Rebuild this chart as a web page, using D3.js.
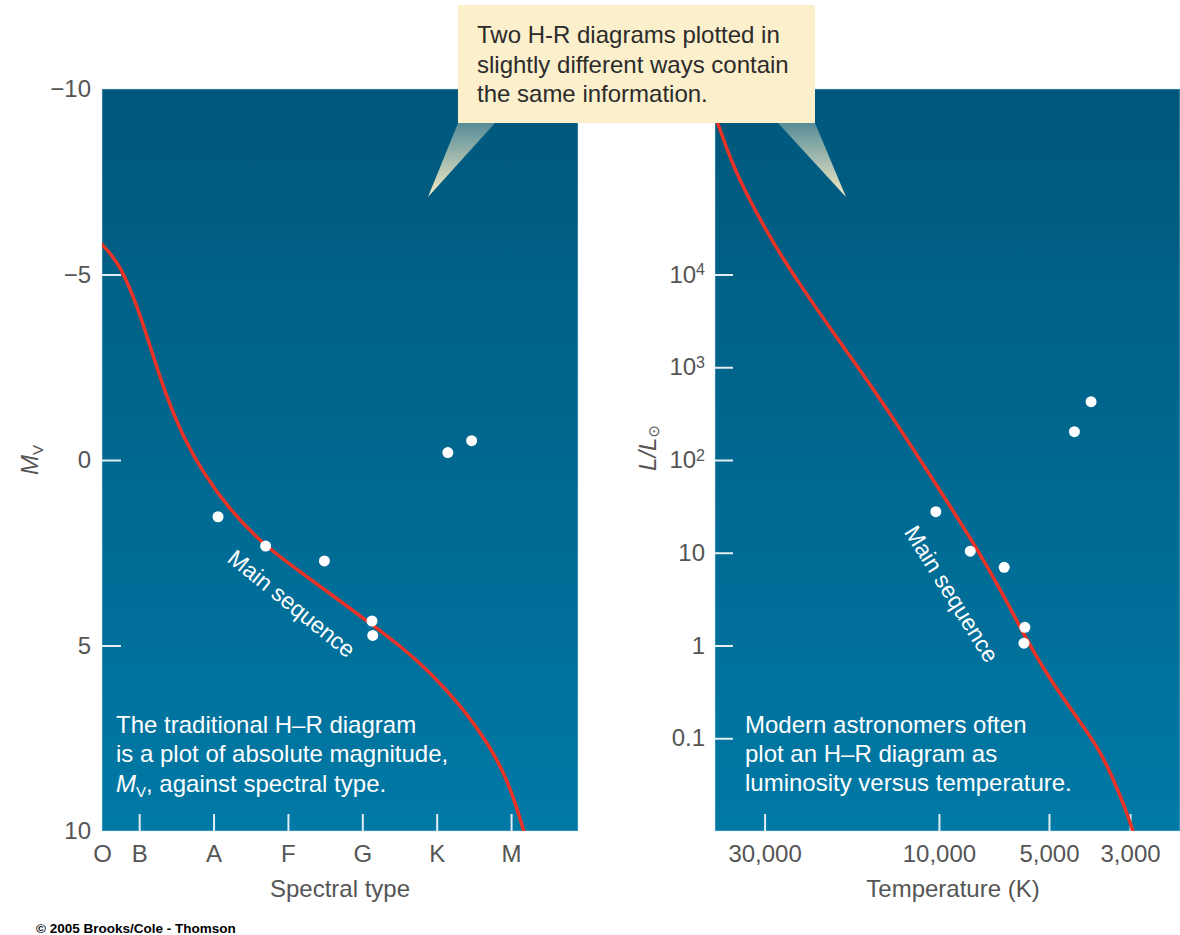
<!DOCTYPE html>
<html>
<head>
<meta charset="utf-8">
<script src="https://cdn.jsdelivr.net/npm/d3@7"></script>
<style>
  body { margin: 0; background: #fff; }
  svg { display: block; font-family: "Liberation Sans", Arial, Helvetica, sans-serif; }
</style>
</head>
<body>
<svg id="chart" width="1180" height="935"></svg>
<script>
// left panel: absolute magnitude vs spectral type
const spectralTypes = ['O', 'B', 'A', 'F', 'G', 'K', 'M'];
const spectralIndex = [0, 0.5, 1.5, 2.5, 3.5, 4.5, 5.5];
const magTicks = [-10, -5, 0, 5, 10];
const msSpectral = [-0.08, 0, 0.24, 0.51, 0.69, 0.87, 1.09, 1.36, 1.72, 2.17, 2.76, 3.2, 3.64, 4.01, 4.41, 4.84, 5.19, 5.46, 5.67, 5.7];
const msMag = [-5.98, -5.8, -5.31, -3.96, -2.78, -1.7, -0.62, 0.35, 1.35, 2.29, 3.15, 3.8, 4.45, 5.01, 5.71, 6.66, 7.63, 8.63, 9.97, 10.24];
const starSpectral = [1.56, 2.2, 2.99, 3.63, 3.64, 4.65, 4.97];
const starMag = [1.53, 2.32, 2.72, 4.34, 4.73, -0.2, -0.52];

// right panel: luminosity vs temperature
const tempTicks = [30000, 10000, 5000, 3000];
const lumTicks = [0.1, 1, 10, 100, 1000, 10000];
const msTemp = [41900, 40340, 36700, 32980, 29620, 26780, 24060, 19540, 15780, 12030, 9175, 7886, 6613, 5828, 4979, 4200, 3703, 3347, 3104, 2951, 2896];
const msLum = [6.7e5, 4.3e5, 1.52e5, 6.36e4, 2.94e4, 1.51e4, 7900, 2400, 747, 152, 28.9, 11.2, 3.33, 1.26, 0.435, 0.169, 0.0845, 0.0382, 0.0182, 0.0103, 0.008];
const starTemp = [10200, 8210, 6630, 5820, 5855, 4260, 3835];
const starLum = [27.7, 10.4, 6.97, 1.57, 1.06, 202, 425];

const calloutLines = ['Two H-R diagrams plotted in', 'slightly different ways contain', 'the same information.'];
const rightNoteLines = ['Modern astronomers often', 'plot an H\u2013R diagram as', 'luminosity versus temperature.'];

const svg = d3.select('#chart');
const leftPanel = {x: 102, y: 89, w: 476, h: 742};
const rightPanel = {x: 715, y: 89, w: 465, h: 742};

const defs = svg.append('defs');
const bg = defs.append('linearGradient').attr('id', 'panelBg')
  .attr('x1', 0).attr('y1', 0).attr('x2', 0).attr('y2', 1);
bg.append('stop').attr('offset', '0%').attr('stop-color', '#00577b');
bg.append('stop').attr('offset', '100%').attr('stop-color', '#0079a5');

const cone = defs.append('linearGradient').attr('id', 'cone')
  .attr('x1', 0).attr('y1', 0).attr('x2', 0).attr('y2', 1);
cone.append('stop').attr('offset', '0%').attr('stop-color', '#f6ebc6').attr('stop-opacity', 0.35);
cone.append('stop').attr('offset', '100%').attr('stop-color', '#f6ebc6').attr('stop-opacity', 1);

[['clipL', leftPanel], ['clipR', rightPanel]].forEach(function([id, p]) {
  defs.append('clipPath').attr('id', id).append('rect')
    .attr('x', p.x).attr('y', p.y).attr('width', p.w).attr('height', p.h);
});

[leftPanel, rightPanel].forEach(function(p) {
  svg.append('rect')
    .attr('x', p.x).attr('y', p.y).attr('width', p.w).attr('height', p.h)
    .attr('fill', 'url(#panelBg)')
    .attr('stroke', 'rgba(200,230,240,0.5)')
    .attr('stroke-width', 1);
});

// scales
const xL = d3.scaleLinear().domain([0, 6.4]).range([leftPanel.x, leftPanel.x + leftPanel.w]);
const yL = d3.scaleLinear().domain([-10, 10]).range([leftPanel.y, leftPanel.y + leftPanel.h]);
const xR = d3.scaleLog().domain([41000, 2190]).range([rightPanel.x, rightPanel.x + rightPanel.w]);
const yR = d3.scaleLog().domain([0.01, 1e6]).range([rightPanel.y + rightPanel.h, rightPanel.y]);

function styleAxis(g, hideTick) {
  g.select('.domain').remove();
  g.attr('font-family', null).attr('font-size', null);
  g.selectAll('.tick line')
    .attr('stroke', '#e4edf2')
    .attr('stroke-width', 2)
    .style('display', function(d) { return hideTick(d) ? 'none' : null; });
  g.selectAll('.tick text')
    .attr('fill', '#555')
    .style('font-size', '24px');
}

// left axes
const axisYL = svg.append('g').attr('transform', 'translate(' + leftPanel.x + ',0)')
  .call(d3.axisLeft(yL).tickValues(magTicks).tickSizeInner(-19).tickSizeOuter(0).tickPadding(11)
    .tickFormat(function(d) { return d < 0 ? '\u2212' + Math.abs(d) : d; }));
styleAxis(axisYL, function(d) { return d === -10 || d === 10; });

const axisXL = svg.append('g').attr('transform', 'translate(0,' + (leftPanel.y + leftPanel.h) + ')')
  .call(d3.axisBottom(xL).tickValues(spectralIndex).tickSizeInner(-17).tickSizeOuter(0).tickPadding(14)
    .tickFormat(function(d, i) { return spectralTypes[i]; }));
styleAxis(axisXL, function(d) { return d === 0; });

// right axes
const axisYR = svg.append('g').attr('transform', 'translate(' + rightPanel.x + ',0)')
  .call(d3.axisLeft(yR).tickValues(lumTicks).tickSizeInner(-18).tickSizeOuter(0).tickPadding(10)
    .tickFormat(function(d) { return d >= 100 ? '10' : String(d); }));
styleAxis(axisYR, function() { return false; });
axisYR.selectAll('.tick text').each(function(d) {
  if (d >= 100) {
    d3.select(this).append('tspan')
      .attr('dy', '-0.45em')
      .style('font-size', '16px')
      .text(Math.round(Math.log10(d)));
  }
});

const axisXR = svg.append('g').attr('transform', 'translate(0,' + (rightPanel.y + rightPanel.h) + ')')
  .call(d3.axisBottom(xR).tickValues(tempTicks).tickSizeInner(-17).tickSizeOuter(0).tickPadding(14)
    .tickFormat(d3.format(',')));
styleAxis(axisXR, function() { return false; });

// main sequence curves
const lineL = d3.line()
  .x(function(d, i) { return xL(msSpectral[i]); })
  .y(function(d) { return yL(d); })
  .curve(d3.curveBasis);
svg.append('path')
  .attr('clip-path', 'url(#clipL)')
  .attr('d', lineL(msMag))
  .attr('fill', 'none')
  .attr('stroke', '#ea3326')
  .attr('stroke-width', 3.5);

const lineR = d3.line()
  .x(function(d, i) { return xR(msTemp[i]); })
  .y(function(d) { return yR(d); })
  .curve(d3.curveBasis);
svg.append('path')
  .attr('clip-path', 'url(#clipR)')
  .attr('d', lineR(msLum))
  .attr('fill', 'none')
  .attr('stroke', '#ea3326')
  .attr('stroke-width', 3.5);

// stars
svg.append('g').selectAll('circle').data(starMag).join('circle')
  .attr('cx', function(d, i) { return xL(starSpectral[i]); })
  .attr('cy', function(d) { return yL(d); })
  .attr('r', 5.5)
  .attr('fill', '#fff');
svg.append('g').selectAll('circle').data(starLum).join('circle')
  .attr('cx', function(d, i) { return xR(starTemp[i]); })
  .attr('cy', function(d) { return yR(d); })
  .attr('r', 5.5)
  .attr('fill', '#fff');

// "Main sequence" labels
svg.append('text')
  .attr('transform', 'translate(' + xL(2.55) + ',' + yL(3.87) + ') rotate(39)')
  .attr('text-anchor', 'middle').attr('dominant-baseline', 'central')
  .attr('fill', '#fff').style('font-size', '23px')
  .text('Main sequence');
svg.append('text')
  .attr('transform', 'translate(' + xR(9230) + ',' + yR(3.6) + ') rotate(58)')
  .attr('text-anchor', 'middle').attr('dominant-baseline', 'central')
  .attr('fill', '#fff').style('font-size', '23px')
  .text('Main sequence');

// notes inside the panels
const noteL = svg.append('text').attr('fill', '#fff').style('font-size', '24px');
noteL.append('tspan').attr('x', 116).attr('y', 733).text('The traditional H\u2013R diagram');
noteL.append('tspan').attr('x', 116).attr('y', 762).text('is a plot of absolute magnitude,');
const l3 = noteL.append('tspan').attr('x', 116).attr('y', 792);
l3.append('tspan').style('font-style', 'italic').text('M');
l3.append('tspan').attr('dy', 5).style('font-size', '15px').text('V');
l3.append('tspan').attr('dy', -5).text(', against spectral type.');

const noteR = svg.append('text').attr('fill', '#fff').style('font-size', '24px');
rightNoteLines.forEach(function(s, i) {
  noteR.append('tspan').attr('x', 745).attr('y', 733 + i * 29).text(s);
});

// axis titles
svg.append('text').attr('x', 340).attr('y', 897).attr('text-anchor', 'middle')
  .attr('fill', '#555').style('font-size', '24px').text('Spectral type');
svg.append('text').attr('x', 953).attr('y', 897).attr('text-anchor', 'middle')
  .attr('fill', '#555').style('font-size', '24px').text('Temperature (K)');

const mvLabel = svg.append('text')
  .attr('transform', 'translate(38,' + yL(0) + ') rotate(-90)')
  .attr('text-anchor', 'middle').attr('fill', '#555').style('font-size', '24px');
mvLabel.append('tspan').style('font-style', 'italic').text('M');
mvLabel.append('tspan').attr('dy', 5).style('font-size', '15px').text('V');

const lLabel = svg.append('text')
  .attr('transform', 'translate(656,' + (yR(100) - 12) + ') rotate(-90)')
  .attr('text-anchor', 'middle').attr('fill', '#555').style('font-size', '24px');
lLabel.append('tspan').style('font-style', 'italic').text('L/L');
lLabel.append('tspan').attr('dy', 3).style('font-size', '15px')
  .style('font-family', 'DejaVu Sans').text('\u2299');

// callout
svg.append('polygon').attr('points', '458,123 495,123 428,197').attr('fill', 'url(#cone)');
svg.append('polygon').attr('points', '778,123 815,123 846,197').attr('fill', 'url(#cone)');
svg.append('rect').attr('x', 458).attr('y', 5).attr('width', 357).attr('height', 118)
  .attr('fill', '#fcefcb');
const callout = svg.append('text').attr('fill', '#2b2b2b').style('font-size', '24px');
calloutLines.forEach(function(s, i) {
  callout.append('tspan').attr('x', 477).attr('y', 43 + i * 29.5).text(s);
});

svg.append('text').attr('x', 36).attr('y', 933)
  .attr('fill', '#000').style('font-size', '13.5px').style('font-weight', 'bold')
  .text('\u00a9 2005 Brooks/Cole - Thomson');
</script>
</body>
</html>
